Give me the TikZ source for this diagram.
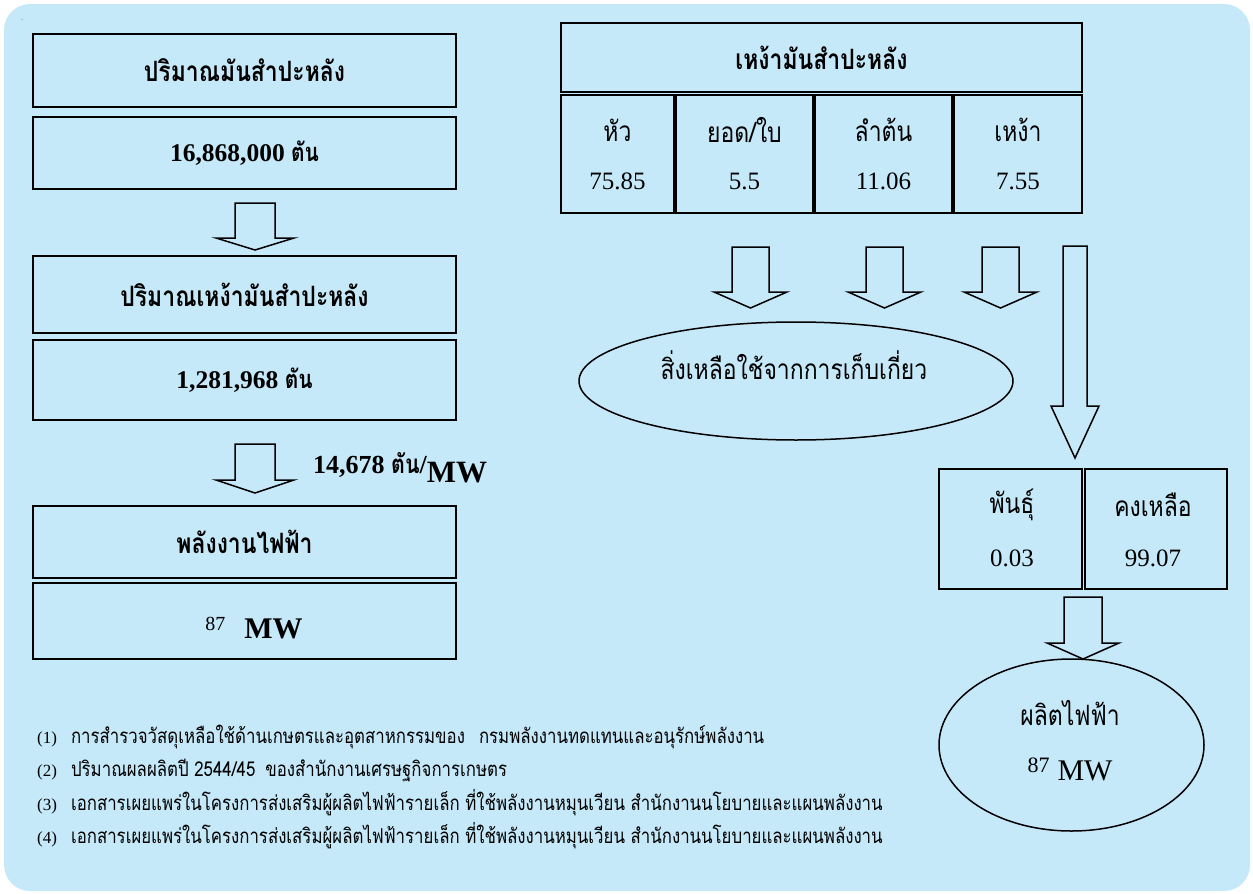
\documentclass[tikz,border=0pt]{standalone}
\usepackage{fontspec}
\setmainfont{Liberation Serif}
\newfontfamily\thai[Script=Thai,FakeStretch=0.82]{Loma}
\usetikzlibrary{shapes.geometric}
\definecolor{bg}{RGB}{198,233,249}
\tikzset{
  box/.style={draw=black, line width=1.8pt, minimum width=423pt, inner sep=0pt},
  cell/.style={draw=black, line width=1.5pt, inner sep=0pt},
  oval/.style={ellipse, draw=black, line width=1.5pt, inner sep=0pt},
  barrow/.style={draw=black, line width=1.5pt, line join=miter},
  ttl/.style={font=\thai\bfseries\fontsize{28}{30}\selectfont, inner sep=0pt},
  txt/.style={font=\thai\fontsize{28}{30}\selectfont, inner sep=0pt},
  num/.style={font=\fontsize{25}{27}\selectfont, inner sep=0pt},
  note/.style={anchor=west, inner sep=0pt, font=\fontsize{17}{19}\selectfont},
}
\newcommand\blockarr[6]{%
  \draw[barrow] (#1-#5,#2) -- (#1-#5,#3) -- (#1-#6,#3) -- (#1,#4) -- (#1+#6,#3) -- (#1+#5,#3) -- (#1+#5,#2) -- cycle;}
\newcommand\tn[1]{{\thai\fontsize{20.5}{22}\selectfont #1}}
\begin{document}
\begin{tikzpicture}[x=1pt,y=-1pt]
\useasboundingbox (0,0) rectangle (1253,894);
\fill[bg, rounded corners=26pt] (4,4) rectangle (1250,891);
\node[inner sep=0pt, font=\fontsize{6}{6}\selectfont] (dot) at (22,20) {.};
% left column
\node[box, minimum height=73pt] (b1) at (244.5,70.5) {};
\node[ttl] (b1t) at (244.5,70.5) {ปริมาณมันสำปะหลัง};
\node[box, minimum height=72pt] (b2) at (244.5,153) {};
\node[num, font=\bfseries\fontsize{25.5}{27}\selectfont] (b2t) at (244.5,153) {16,868,000 {\thai ตัน}};
\blockarr{255}{203}{238}{250}{20}{39}
\node[box, minimum height=77pt] (b3) at (244.5,294.5) {};
\node[ttl] (b3t) at (244.5,294.5) {ปริมาณเหง้ามันสำปะหลัง};
\node[box, minimum height=80pt] (b4) at (244.5,380) {};
\node[num, font=\bfseries\fontsize{25.5}{27}\selectfont] (b4t) at (244.5,380) {1,281,968 {\thai ตัน}};
\blockarr{255}{444}{480}{493}{20}{39}
\node[anchor=base west, inner sep=0pt, font=\bfseries\fontsize{31}{33}\selectfont] (lbl) at (313,482)
  {\raisebox{9pt}{\fontsize{26}{28}\selectfont 14,678 {\thai ตัน}/}MW};
\node[box, minimum height=72pt] (b5) at (244.5,542) {};
\node[ttl] (b5t) at (244.5,542) {พลังงานไฟฟ้า};
\node[box, minimum height=76pt] (b6) at (244.5,621) {};
\node[anchor=base, inner sep=0pt, font=\bfseries\fontsize{30}{32}\selectfont] (b6t) at (254,638)
  {\raisebox{8pt}{\mdseries\fontsize{20}{22}\selectfont 87}\hspace{19pt}MW};
% right table
\node[cell, minimum width=521pt, minimum height=69pt] (hdr) at (821.5,57.5) {};
\node[ttl] (hdrt) at (821.5,57.5) {เหง้ามันสำปะหลัง};
\node[cell, minimum width=113pt, minimum height=118pt] (c1) at (617.5,154) {};
\node[cell, minimum width=137pt, minimum height=118pt] (c2) at (744.5,154) {};
\node[cell, minimum width=137pt, minimum height=118pt] (c3) at (883.5,154) {};
\node[cell, minimum width=128pt, minimum height=118pt] (c4) at (1018,154) {};
\node[txt] (c1a) at (617.5,130) {หัว};
\node[txt] (c2a) at (744.5,130) {ยอด/ใบ};
\node[txt] (c3a) at (883.5,130) {ลำต้น};
\node[txt] (c4a) at (1018,130) {เหง้า};
\node[num] (c1b) at (617.5,181) {75.85};
\node[num] (c2b) at (744.5,181) {5.5};
\node[num] (c3b) at (883.5,181) {11.06};
\node[num] (c4b) at (1018,181) {7.55};
\blockarr{750.5}{247}{292}{308}{18.5}{36.5}
\blockarr{884.5}{247}{292}{308}{18.5}{36.5}
\blockarr{1000.5}{247}{292}{308}{18.5}{36.5}
\blockarr{1075}{246}{406}{458}{12}{24}
\node[oval, minimum width=434pt, minimum height=118pt] (e1) at (796,381) {};
\node[txt] (e1t) at (794,365) {สิ่งเหลือใช้จากการเก็บเกี่ยว};
% right lower table
\node[cell, minimum width=143pt, minimum height=120pt] (p1) at (1010.5,529) {};
\node[cell, minimum width=142pt, minimum height=120pt] (p2) at (1156,529) {};
\node[txt] (p1a) at (1012,505) {พันธุ์};
\node[txt] (p2a) at (1153,505) {คงเหลือ};
\node[num] (p1b) at (1012,558) {0.03};
\node[num] (p2b) at (1153,558) {99.07};
\blockarr{1083}{597}{643}{659}{19}{36}
\node[oval, minimum width=265pt, minimum height=172pt] (e2) at (1071.5,745) {};
\node[txt] (e2a) at (1070,713) {ผลิตไฟฟ้า};
\node[anchor=base, inner sep=0pt, font=\fontsize{30}{32}\selectfont] (e2b) at (1070,780)
  {\raisebox{8pt}{\fontsize{22}{24}\selectfont 87}\hspace{8pt}MW};
% footnotes
\node[note] (n1) at (37,737) {(1)\hspace{14pt}\tn{การสำรวจวัสดุเหลือใช้ด้านเกษตรและอุตสาหกรรมของ\hspace{14pt}กรมพลังงานทดแทนและอนุรักษ์พลังงาน}};
\node[note] (n2) at (37,770) {(2)\hspace{14pt}\tn{ปริมาณผลผลิตปี 2544/45\hspace{10pt}ของสำนักงานเศรษฐกิจการเกษตร}};
\node[note] (n3) at (37,803) {(3)\hspace{14pt}\tn{เอกสารเผยแพร่ในโครงการส่งเสริมผู้ผลิตไฟฟ้ารายเล็ก ที่ใช้พลังงานหมุนเวียน สำนักงานนโยบายและแผนพลังงาน}};
\node[note] (n4) at (37,836) {(4)\hspace{14pt}\tn{เอกสารเผยแพร่ในโครงการส่งเสริมผู้ผลิตไฟฟ้ารายเล็ก ที่ใช้พลังงานหมุนเวียน สำนักงานนโยบายและแผนพลังงาน}};
\end{tikzpicture}
\end{document}
